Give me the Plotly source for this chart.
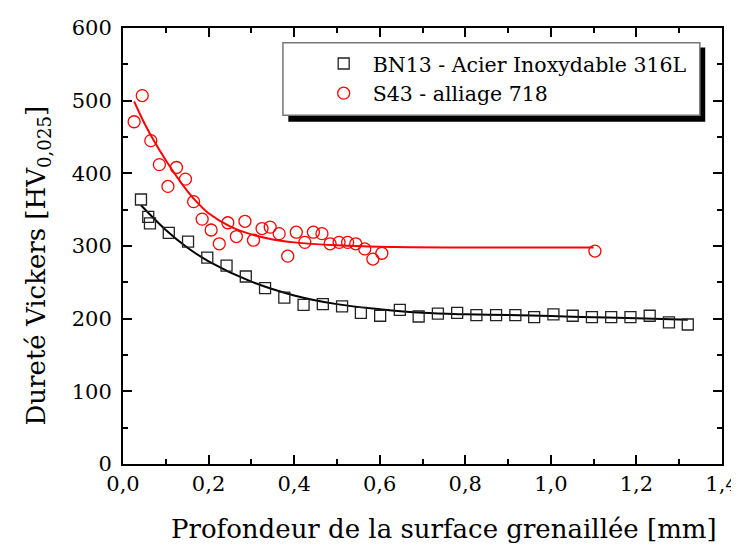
import plotly.graph_objects as go

# --- data ---
bn13_x = [0.042, 0.059, 0.063, 0.107, 0.152, 0.197, 0.242, 0.287, 0.332, 0.377, 0.422,
          0.467, 0.512, 0.556, 0.601, 0.647, 0.691, 0.736, 0.781, 0.826, 0.872, 0.917,
          0.961, 1.006, 1.051, 1.096, 1.141, 1.186, 1.231, 1.276, 1.320]
bn13_y = [364, 340, 331, 318, 306, 284, 273, 258, 242, 229, 219,
          220, 217, 208, 204, 212, 203, 207, 208, 205, 205, 205,
          202, 206, 204, 202, 202, 202, 204, 195, 192]

s43_x = [0.026, 0.045, 0.065, 0.085, 0.105, 0.125, 0.146, 0.165, 0.185, 0.206, 0.225,
         0.245, 0.265, 0.285, 0.305, 0.325, 0.344, 0.365, 0.385, 0.405, 0.425, 0.445,
         0.465, 0.484, 0.505, 0.525, 0.544, 0.565, 0.584, 0.605, 1.103]
s43_y = [471, 507, 445, 412, 382, 408, 392, 361, 337, 322, 303,
         332, 313, 334, 308, 324, 326, 317, 286, 319, 305, 319,
         317, 303, 305, 305, 303, 296, 282, 290, 293]

# fitted curves
bn13_fit_x = [0.042, 0.1, 0.15, 0.2, 0.3, 0.4, 0.5, 0.6, 0.7, 0.8, 0.9, 1.0, 1.1, 1.2, 1.32]
bn13_fit_y = [356, 322, 298, 279, 251, 232, 220, 213, 208, 206, 205, 203.5, 202, 200.5, 198.5]

s43_fit_x = [0.026, 0.05, 0.075, 0.1, 0.125, 0.15, 0.175, 0.2, 0.25, 0.3, 0.35, 0.4, 0.5, 0.6, 0.8, 1.1]
s43_fit_y = [499, 469, 442, 418, 396, 376, 359, 345, 327, 316, 309, 305, 301, 299, 298, 298]

names = ["BN13 - Acier Inoxydable 316L", "S43 - alliage 718"]

x_ticks = [0.0, 0.2, 0.4, 0.6, 0.8, 1.0, 1.2, 1.4]
x_tick_labels = ["0,0", "0,2", "0,4", "0,6", "0,8", "1,0", "1,2", "1,4"]
y_ticks = [0, 100, 200, 300, 400, 500, 600]

x_title = "Profondeur de la surface grenaillée [mm]"
y_title = "Dureté Vickers [HV<sub>0,025</sub>]"

FONT = "DejaVu Serif"

fig = go.Figure()
fig.add_trace(go.Scatter(x=bn13_fit_x, y=bn13_fit_y, mode="lines", line=dict(color="black", width=2, shape="spline"),
                         showlegend=False, hoverinfo="skip"))
fig.add_trace(go.Scatter(x=s43_fit_x, y=s43_fit_y, mode="lines", line=dict(color="#ff0000", width=2, shape="spline"),
                         showlegend=False, hoverinfo="skip"))
fig.add_trace(go.Scatter(x=bn13_x, y=bn13_y, mode="markers", name=names[0],
                         marker=dict(symbol="square-open", size=11, color="#222222", line=dict(width=1.3))))
fig.add_trace(go.Scatter(x=s43_x, y=s43_y, mode="markers", name=names[1],
                         marker=dict(symbol="circle-open", size=12, color="#ff0000", line=dict(width=1.3))))

axis_common = dict(
    showline=True, linecolor="black", linewidth=2, mirror="ticks",
    ticks="inside", ticklen=9, tickwidth=2, tickcolor="black",
    showgrid=False, zeroline=False, automargin=False,
    tickfont=dict(family=FONT, size=21, color="black"),
)

fig.update_xaxes(range=[0, 1.4], tickvals=x_ticks, ticktext=x_tick_labels,
                 minor=dict(ticks="inside", ticklen=5, tickwidth=1.5, tickcolor="black", dtick=0.1),
                 **axis_common)
fig.update_yaxes(range=[0, 600], tickvals=y_ticks, ticklabelstandoff=5,
                 minor=dict(ticks="inside", ticklen=5, tickwidth=1.5, tickcolor="black", dtick=50),
                 **axis_common)

# axis titles as annotations (slightly off-centre in the reference)
fig.add_annotation(text=x_title, xref="paper", yref="paper", x=0.536, y=-0.148,
                   xanchor="center", yanchor="middle", showarrow=False,
                   font=dict(family=FONT, size=26, color="black"))
fig.add_annotation(text=y_title, xref="paper", yref="paper", x=-0.143, y=0.456,
                   xanchor="center", yanchor="middle", showarrow=False, textangle=-90,
                   font=dict(family=FONT, size=26, color="black"))

# legend box with drop shadow
fig.add_shape(type="rect", xref="paper", yref="paper", x0=0.276, x1=0.972, y0=0.785, y1=0.955,
              fillcolor="black", line=dict(width=0), layer="above")
fig.add_shape(type="rect", xref="paper", yref="paper", x0=0.267, x1=0.963, y0=0.800, y1=0.966,
              fillcolor="white", line=dict(color="#777777", width=1.5), layer="above")

fig.update_layout(
    width=739, height=546,
    margin=dict(l=115, r=25, t=20, b=90),
    paper_bgcolor="white", plot_bgcolor="white",
    font=dict(family=FONT, color="black"),
    legend=dict(x=0.32, y=0.964, xanchor="left", yanchor="top", bgcolor="rgba(0,0,0,0)",
                borderwidth=0, font=dict(family=FONT, size=20.5, color="black"),
                itemwidth=48, tracegroupgap=0),
)

fig.write_html("out.html")
